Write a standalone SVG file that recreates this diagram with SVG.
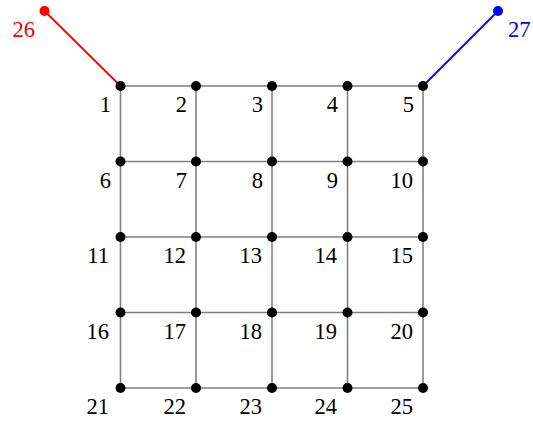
<svg xmlns="http://www.w3.org/2000/svg" width="533" height="423" viewBox="0 0 533 423">
<style>
.e{stroke:#808080;stroke-width:1.6;fill:none}
.n{fill:#000}
.t{font-family:"Liberation Serif",serif;font-size:22.5px;fill:#000;text-anchor:end}
</style>
<rect width="533" height="423" fill="#fff"/>
<g id="connectors">
<path class="e" d="M120.5 86H423M120.5 161.5H423M120.5 237H423M120.5 312.5H423M120.5 388H423M120.5 86V388M196 86V388M272 86V388M347.5 86V388M423 86V388"/>
<line x1="44.5" y1="11" x2="120.5" y2="86" stroke="#f00" stroke-width="1.8"/>
<line x1="498" y1="11" x2="423" y2="86" stroke="#00f" stroke-width="1.8"/>
</g>
<g id="n1"><circle class="n" cx="120.5" cy="86" r="5"/><text class="t" x="111" y="112">1</text></g>
<g id="n2"><circle class="n" cx="196" cy="86" r="5"/><text class="t" x="187" y="112">2</text></g>
<g id="n3"><circle class="n" cx="272" cy="86" r="5"/><text class="t" x="263" y="112">3</text></g>
<g id="n4"><circle class="n" cx="347.5" cy="86" r="5"/><text class="t" x="338" y="112">4</text></g>
<g id="n5"><circle class="n" cx="423" cy="86" r="5"/><text class="t" x="414" y="112">5</text></g>
<g id="n6"><circle class="n" cx="120.5" cy="161.5" r="5"/><text class="t" x="111" y="188">6</text></g>
<g id="n7"><circle class="n" cx="196" cy="161.5" r="5"/><text class="t" x="187" y="188">7</text></g>
<g id="n8"><circle class="n" cx="272" cy="161.5" r="5"/><text class="t" x="263" y="188">8</text></g>
<g id="n9"><circle class="n" cx="347.5" cy="161.5" r="5"/><text class="t" x="338" y="188">9</text></g>
<g id="n10"><circle class="n" cx="423" cy="161.5" r="5"/><text class="t" x="413" y="188">10</text></g>
<g id="n11"><circle class="n" cx="120.5" cy="237" r="5"/><text class="t" x="109" y="263">11</text></g>
<g id="n12"><circle class="n" cx="196" cy="237" r="5"/><text class="t" x="186" y="263">12</text></g>
<g id="n13"><circle class="n" cx="272" cy="237" r="5"/><text class="t" x="262" y="263">13</text></g>
<g id="n14"><circle class="n" cx="347.5" cy="237" r="5"/><text class="t" x="337" y="263">14</text></g>
<g id="n15"><circle class="n" cx="423" cy="237" r="5"/><text class="t" x="413" y="263">15</text></g>
<g id="n16"><circle class="n" cx="120.5" cy="312.5" r="5"/><text class="t" x="109" y="339">16</text></g>
<g id="n17"><circle class="n" cx="196" cy="312.5" r="5"/><text class="t" x="186" y="339">17</text></g>
<g id="n18"><circle class="n" cx="272" cy="312.5" r="5"/><text class="t" x="262" y="339">18</text></g>
<g id="n19"><circle class="n" cx="347.5" cy="312.5" r="5"/><text class="t" x="337" y="339">19</text></g>
<g id="n20"><circle class="n" cx="423" cy="312.5" r="5"/><text class="t" x="413" y="339">20</text></g>
<g id="n21"><circle class="n" cx="120.5" cy="388" r="5"/><text class="t" x="109" y="414">21</text></g>
<g id="n22"><circle class="n" cx="196" cy="388" r="5"/><text class="t" x="186" y="414">22</text></g>
<g id="n23"><circle class="n" cx="272" cy="388" r="5"/><text class="t" x="262" y="414">23</text></g>
<g id="n24"><circle class="n" cx="347.5" cy="388" r="5"/><text class="t" x="337" y="414">24</text></g>
<g id="n25"><circle class="n" cx="423" cy="388" r="5"/><text class="t" x="413" y="414">25</text></g>
<g id="n26"><circle cx="44.5" cy="11" r="5" fill="#f00"/><text class="t" x="35" y="37" style="fill:#f00">26</text></g>
<g id="n27"><circle cx="498" cy="11" r="5" fill="#00f"/><text x="508" y="37" style="font-family:'Liberation Serif',serif;font-size:22.5px;fill:#00f">27</text></g>
</svg>
